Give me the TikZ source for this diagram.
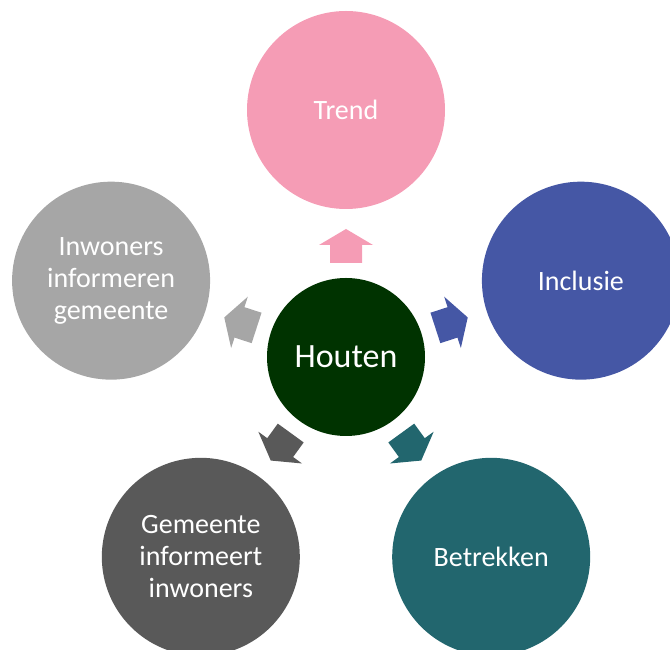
\documentclass[tikz,border=0pt]{standalone}
\usepackage{fontspec}
\usetikzlibrary{calc}
\setmainfont{Carlito}
\definecolor{cpink}{HTML}{F59CB5}
\definecolor{cblue}{HTML}{4557A5}
\definecolor{cteal}{HTML}{22666E}
\definecolor{cdark}{HTML}{595959}
\definecolor{clight}{HTML}{A6A6A6}
\definecolor{cgreen}{HTML}{003300}
\begin{document}
\begin{tikzpicture}[x=1pt,y=1pt,
  outer/.style={circle,minimum size=198pt,inner sep=0pt,text=white,align=center,
    font=\fontsize{28}{32}\selectfont},
  hub/.style={circle,minimum size=158pt,inner sep=0pt,fill=cgreen,text=white,
    font=\fontsize{34}{40}\selectfont}]
\useasboundingbox (0,0) rectangle (670,650);
\coordinate (c) at (346,293);
\node[hub] (houten) at (c) {Houten};
\node[outer,fill=cpink] (trend) at ($(c)+(90:247)$) {Trend};
\node[outer,fill=cblue] (inclusie) at ($(c)+(18:247)$) {Inclusie};
\node[outer,fill=cteal] (betrekken) at ($(c)+(-54:247)$) {Betrekken};
\node[outer,fill=cdark] (gemeente) at ($(c)+(-126:247)$) {Gemeente\\informeert\\inwoners};
\node[outer,fill=clight] (inwoners) at ($(c)+(162:247)$) {Inwoners\\informeren\\gemeente};
\foreach \a/\col in {90/cpink,18/cblue,-54/cteal,-126/cdark,162/clight}{
  \begin{scope}[shift={(c)},rotate=\a-90]
    \fill[\col] (-16,94) -- (16,94) -- (16,112) -- (27,112) -- (0,128) -- (-27,112) -- (-16,112) -- cycle;
  \end{scope}
}
\end{tikzpicture}
\end{document}
